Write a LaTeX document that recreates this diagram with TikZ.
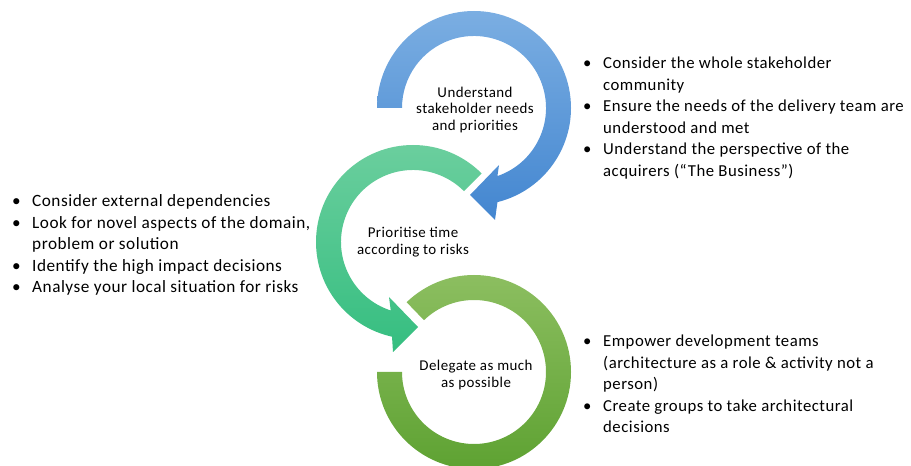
\documentclass[tikz,border=0pt]{standalone}
\usepackage{fontspec}
\setmainfont{Carlito}[LetterSpace=3]
\usetikzlibrary{calc}

\definecolor{blueTop}{HTML}{7BAEE2}
\definecolor{blueBot}{HTML}{4386D0}
\definecolor{greenTop}{HTML}{6DCF9F}
\definecolor{greenBot}{HTML}{35BE80}
\definecolor{limeTop}{HTML}{8CBE60}
\definecolor{limeBot}{HTML}{5EA232}

\newcommand{\bul}{\makebox[20bp][l]{\textbullet}}
\newcommand{\cont}{\hspace*{20bp}}

\tikzset{
	hub/.style={align=center, inner sep=0pt, font=\fontsize{15}{17}\selectfont},
	notes/.style={align=left, inner sep=0pt, anchor=north west, font=\fontsize{16.8}{21.6}\selectfont},
}

\begin{document}
\begin{tikzpicture}[x=1bp, y=1bp]
	\useasboundingbox (0,0) rectangle (911,-466);
	\coordinate (cB) at (474,-108);
	\coordinate (cG) at (413,-242);
	\coordinate (cL) at (474,-372);

	% bottom ring
	\shade[top color=limeTop, bottom color=limeBot]
		($(cL)+(180:97)$) arc[start angle=180, end angle=494, radius=97] --
		($(cL)+(134:72)$) arc[start angle=134, end angle=-180, radius=72] -- cycle;
	% middle ring with arrow
	\shade[top color=greenTop, bottom color=greenBot]
		($(cG)+(45:97)$) arc[start angle=45, end angle=257.5, radius=97] --
		(393,-352) -- (418,-327) -- (389,-297) --
		($(cG)+(252:72)$) arc[start angle=252, end angle=45, radius=72] -- cycle;
	% top ring with arrow
	\shade[top color=blueTop, bottom color=blueBot]
		($(cB)+(180:97)$) arc[start angle=180, end angle=-76, radius=97] --
		(495,-220) -- (470,-195) -- (499,-165) --
		($(cB)+(-71:72)$) arc[start angle=-71, end angle=180, radius=72] -- cycle;

	\node[hub] (needs) at (475,-110) {Understand\\stakeholder needs\\and priorities};
	\node[hub] (risks) at (413,-242) {Prioritise time\\according to risks};
	\node[hub] (delegate) at (476,-375) {Delegate as much\\as possible};

	\node[notes] (needsNotes) at (583,-57) {\bul Consider the whole stakeholder\\\cont community\\
		\bul Ensure the needs of the delivery team are\\\cont understood and met\\
		\bul Understand the perspective of the\\\cont acquirers (“The Business”)};
	\node[notes, font=\fontsize{17.3}{21.6}\selectfont] (risksNotes) at (12,-194.5) {\bul Consider external dependencies\\
		\bul Look for novel aspects of the domain,\\\cont problem or solution\\
		\bul Identify the high impact decisions\\
		\bul Analyse your local situation for risks};
	\node[notes] (delegateNotes) at (583,-335) {\bul Empower development teams\\\cont (architecture as a role \& activity not a\\\cont person)\\
		\bul Create groups to take architectural\\\cont decisions};
\end{tikzpicture}
\end{document}
